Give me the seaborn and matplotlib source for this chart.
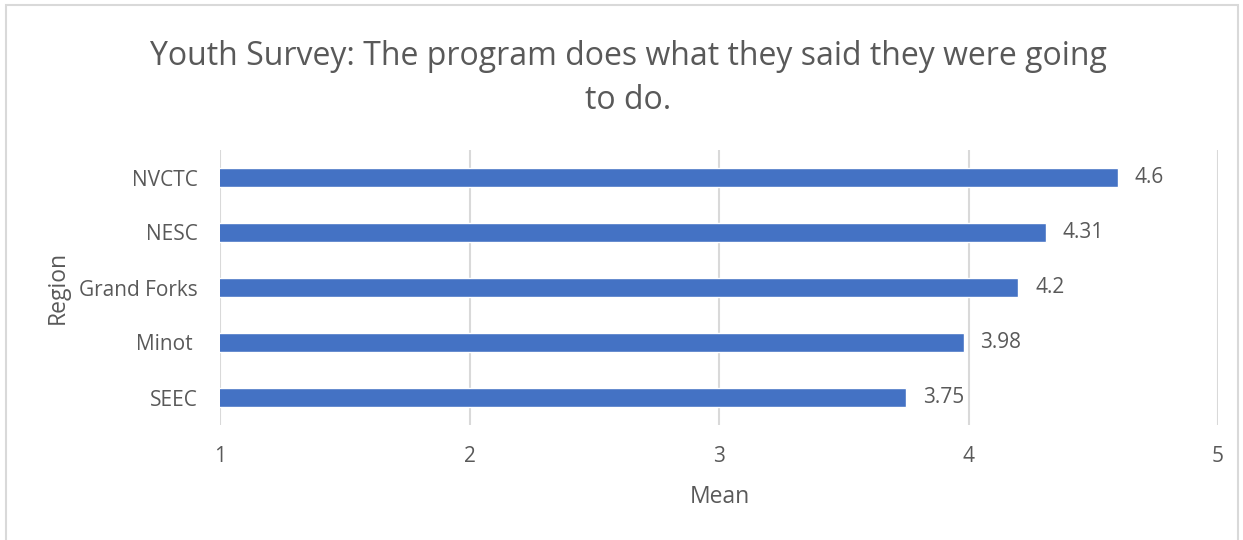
import matplotlib
matplotlib.use("Agg")
import matplotlib.pyplot as plt
from matplotlib.patches import Rectangle
import seaborn as sns
import pandas as pd

# Survey results
regions = ["NVCTC", "NESC", "Grand Forks", "Minot ", "SEEC"]
means = [4.6, 4.31, 4.2, 3.98, 3.75]
x_ticks = [1, 2, 3, 4, 5]

title = "Youth Survey: The program does what they said they were going\nto do."

TEXT = "#595959"
GRID = "#D9D9D9"
BAR = "#4472C4"

sns.set_theme(style="white")
plt.rcParams["font.family"] = ["Open Sans", "DejaVu Sans"]

W, H = 1243, 540
fig = plt.figure(figsize=(W / 100, H / 100), dpi=100)
ax = fig.add_axes([220 / W, 1 - 425 / H, (1218 - 220) / W, (425 - 150) / H])

df = pd.DataFrame({"Region": regions, "Mean": means})
sns.barplot(data=df, x="Mean", y="Region", orient="h", color=BAR,
            saturation=1, width=0.345, ax=ax, zorder=3)

ax.set_xlim(x_ticks[0], x_ticks[-1])
ax.set_xticks(x_ticks)
ax.set_xticklabels([str(t) for t in x_ticks])
ax.xaxis.grid(True, color=GRID, linewidth=1.5, zorder=0)
ax.set_axisbelow(True)
for s in ax.spines.values():
    s.set_visible(False)
ax.tick_params(axis="both", length=0, colors=TEXT, labelsize=15)
ax.tick_params(axis="x", pad=15)
ax.tick_params(axis="y", pad=16)

for c in ax.containers:
    ax.bar_label(c, labels=[f"{v:g}" for v in means], padding=12,
                 color=TEXT, fontsize=15)

ax.set_xlabel("Mean", color=TEXT, fontsize=16.5, va="center")
ax.set_ylabel("Region", color=TEXT, fontsize=16.5, va="center")
ax.xaxis.set_label_coords((720 - 220) / (1218 - 220), -(497 - 425) / (425 - 150))
ax.yaxis.set_label_coords(-(220 - 58) / (1218 - 220), 0.5)

fig.text(628 / W, 1 - 40 / H, title, ha="center", va="top",
         color=TEXT, fontsize=23, linespacing=1.45)

# outer chart frame
fig.patches.append(Rectangle((6 / W, -0.1), (1238 - 6) / W, 1.1 - 5 / H,
                             transform=fig.transFigure, fill=False,
                             edgecolor=GRID, linewidth=1.5))

fig.savefig("out.png", dpi=100)
